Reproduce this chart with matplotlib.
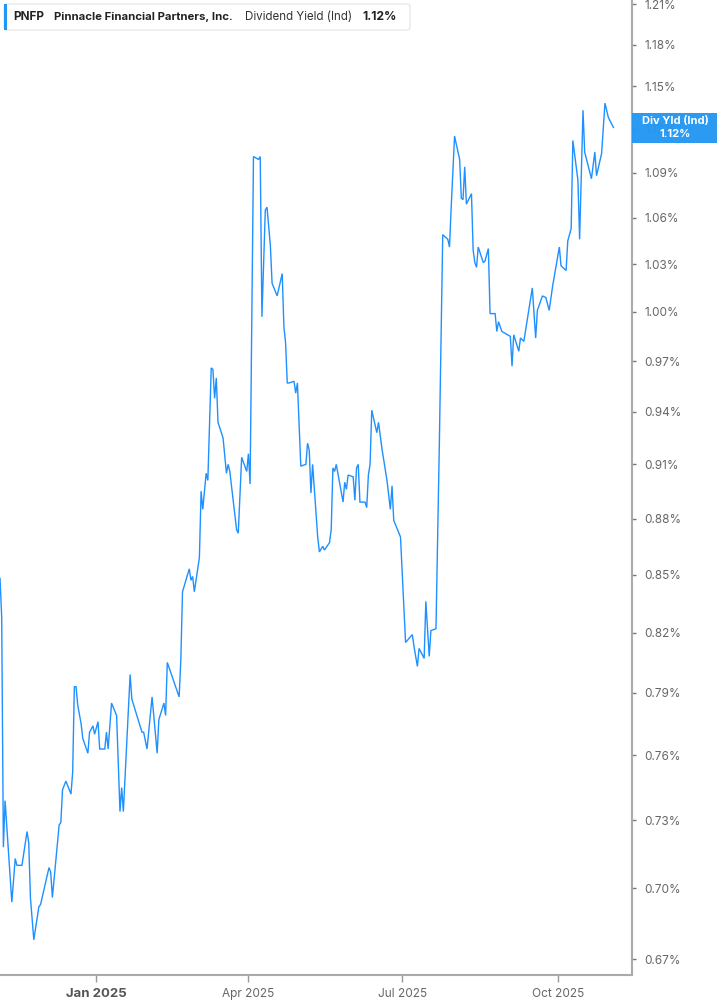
import numpy as np
import pandas as pd
import matplotlib
matplotlib.use("Agg")
import matplotlib.pyplot as plt
import matplotlib.ticker as mticker
from matplotlib.patches import FancyBboxPatch, Rectangle

# dividend yield (%)
dates = [
    "2024-11-05", "2024-11-06", "2024-11-07", "2024-11-08", "2024-11-12", "2024-11-14",
    "2024-11-15", "2024-11-18", "2024-11-21", "2024-11-22", "2024-11-23", "2024-11-25",
    "2024-11-28", "2024-11-29", "2024-12-04", "2024-12-05", "2024-12-06", "2024-12-10",
    "2024-12-11", "2024-12-12", "2024-12-14", "2024-12-17", "2024-12-18", "2024-12-19",
    "2024-12-20", "2024-12-21", "2024-12-23", "2024-12-24", "2024-12-27", "2024-12-28",
    "2024-12-30", "2024-12-31", "2025-01-02", "2025-01-03", "2025-01-06", "2025-01-07",
    "2025-01-08", "2025-01-10", "2025-01-13", "2025-01-15", "2025-01-16", "2025-01-17",
    "2025-01-21", "2025-01-22", "2025-01-25", "2025-01-28", "2025-01-29", "2025-01-31",
    "2025-02-03", "2025-02-06", "2025-02-07", "2025-02-10", "2025-02-11", "2025-02-12",
    "2025-02-19", "2025-02-20", "2025-02-21", "2025-02-25", "2025-02-26", "2025-02-27",
    "2025-02-28", "2025-03-03", "2025-03-04", "2025-03-05", "2025-03-07", "2025-03-08",
    "2025-03-10", "2025-03-11", "2025-03-12", "2025-03-13", "2025-03-14", "2025-03-17",
    "2025-03-19", "2025-03-20", "2025-03-21", "2025-03-25", "2025-03-26", "2025-03-28",
    "2025-03-31", "2025-04-01", "2025-04-02", "2025-04-04", "2025-04-07", "2025-04-08",
    "2025-04-09", "2025-04-11", "2025-04-12", "2025-04-14", "2025-04-15", "2025-04-18",
    "2025-04-21", "2025-04-22", "2025-04-23", "2025-04-24", "2025-04-25", "2025-04-28",
    "2025-04-29", "2025-04-30", "2025-05-02", "2025-05-05", "2025-05-06", "2025-05-07",
    "2025-05-08", "2025-05-09", "2025-05-12", "2025-05-13", "2025-05-15", "2025-05-16",
    "2025-05-19", "2025-05-20", "2025-05-21", "2025-05-22", "2025-05-23", "2025-05-27",
    "2025-05-28", "2025-05-29", "2025-05-30", "2025-06-02", "2025-06-03", "2025-06-04",
    "2025-06-05", "2025-06-06", "2025-06-09", "2025-06-10", "2025-06-11", "2025-06-12",
    "2025-06-13", "2025-06-16", "2025-06-17", "2025-06-19", "2025-06-22", "2025-06-24",
    "2025-06-25", "2025-06-26", "2025-06-30", "2025-07-03", "2025-07-07", "2025-07-08",
    "2025-07-10", "2025-07-11", "2025-07-14", "2025-07-15", "2025-07-17", "2025-07-18",
    "2025-07-21", "2025-07-23", "2025-07-25", "2025-07-28", "2025-07-29", "2025-07-30",
    "2025-08-01", "2025-08-04", "2025-08-05", "2025-08-06", "2025-08-07", "2025-08-08",
    "2025-08-11", "2025-08-12", "2025-08-13", "2025-08-14", "2025-08-15", "2025-08-18",
    "2025-08-19", "2025-08-21", "2025-08-22", "2025-08-25", "2025-08-26", "2025-08-27",
    "2025-08-29", "2025-09-03", "2025-09-04", "2025-09-05", "2025-09-08", "2025-09-09",
    "2025-09-11", "2025-09-16", "2025-09-18", "2025-09-19", "2025-09-22", "2025-09-24",
    "2025-09-26", "2025-09-28", "2025-10-02", "2025-10-03", "2025-10-06", "2025-10-07",
    "2025-10-09", "2025-10-10", "2025-10-13", "2025-10-14", "2025-10-16", "2025-10-17",
    "2025-10-21", "2025-10-23", "2025-10-24", "2025-10-27", "2025-10-29", "2025-10-31",
    "2025-11-03",
]
yield_pct = [
    0.848, 0.828, 0.718, 0.739, 0.694, 0.713,
    0.710, 0.710, 0.725, 0.720, 0.696, 0.678,
    0.692, 0.693, 0.709, 0.707, 0.696, 0.728,
    0.729, 0.744, 0.748, 0.742, 0.752, 0.793,
    0.793, 0.784, 0.775, 0.768, 0.761, 0.771,
    0.774, 0.770, 0.776, 0.763, 0.763, 0.771,
    0.763, 0.785, 0.779, 0.734, 0.745, 0.734,
    0.799, 0.787, 0.779, 0.771, 0.771, 0.763,
    0.788, 0.761, 0.777, 0.785, 0.779, 0.805,
    0.788, 0.806, 0.841, 0.853, 0.847, 0.849,
    0.841, 0.859, 0.895, 0.885, 0.905, 0.901,
    0.966, 0.965, 0.948, 0.960, 0.934, 0.925,
    0.905, 0.910, 0.906, 0.874, 0.872, 0.914,
    0.906, 0.916, 0.899, 1.101, 1.099, 1.101,
    0.997, 1.065, 1.067, 1.042, 1.018, 1.010,
    1.024, 0.991, 0.981, 0.957, 0.957, 0.958,
    0.951, 0.957, 0.909, 0.910, 0.922, 0.918,
    0.894, 0.910, 0.870, 0.862, 0.865, 0.863,
    0.867, 0.874, 0.908, 0.906, 0.910, 0.889,
    0.900, 0.896, 0.904, 0.903, 0.890, 0.908,
    0.910, 0.889, 0.889, 0.886, 0.904, 0.910,
    0.941, 0.928, 0.934, 0.919, 0.901, 0.885,
    0.898, 0.879, 0.870, 0.815, 0.819, 0.813,
    0.803, 0.812, 0.807, 0.836, 0.808, 0.821,
    0.822, 0.922, 1.049, 1.046, 1.041, 1.067,
    1.115, 1.099, 1.073, 1.072, 1.094, 1.069,
    1.076, 1.039, 1.031, 1.028, 1.041, 1.031,
    1.032, 1.040, 0.999, 0.999, 0.988, 0.994,
    0.988, 0.985, 0.967, 0.986, 0.976, 0.984,
    0.982, 1.015, 0.984, 1.001, 1.010, 1.009,
    1.001, 1.016, 1.041, 1.029, 1.026, 1.045,
    1.053, 1.112, 1.085, 1.046, 1.133, 1.104,
    1.086, 1.104, 1.088, 1.103, 1.138, 1.128,
    1.121,
]

y_ticks = [0.67, 0.70, 0.73, 0.76, 0.79, 0.82, 0.85, 0.88, 0.91, 0.94, 0.97,
           1.00, 1.03, 1.06, 1.09, 1.12, 1.15, 1.18, 1.21]
x_ticks = ["2025-01-01", "2025-04-01", "2025-07-01", "2025-10-01"]
x_labels = ["Jan 2025", "Apr 2025", "Jul 2025", "Oct 2025"]

ticker_sym = "PNFP"
company = "Pinnacle Financial Partners, Inc."
metric = "Dividend Yield (Ind)"
last_val = "1.12%"

LINE = "#1e90ff"
BADGE = "#2196f3"
W, H = 717, 1005

plt.rcParams["font.family"] = ["Inter", "DejaVu Sans"]

fig = plt.figure(figsize=(W / 100, H / 100), dpi=100)
ax = fig.add_axes([0, 30 / H, 632 / W, 975 / H])

x = pd.to_datetime(dates)
ax.plot(x, yield_pct, color=LINE, lw=1.0, solid_joinstyle="miter")

ax.set_yscale("log")
ax.set_ylim(0.6634, 1.213)
ax.set_xlim(pd.Timestamp("2024-11-05"), pd.Timestamp("2025-11-14"))

ax.yaxis.tick_right()
ax.yaxis.set_major_locator(mticker.FixedLocator(y_ticks))
ax.yaxis.set_minor_locator(mticker.NullLocator())
ax.yaxis.set_major_formatter(mticker.FuncFormatter(lambda v, _: f"{v:.2f}%"))
ax.tick_params(axis="y", which="major", direction="out", length=3, width=1,
               color="#777777", labelcolor="#666666", labelsize=8.5, pad=6)

ax.set_xticks(pd.to_datetime(x_ticks))
ax.set_xticklabels(x_labels)
ax.tick_params(axis="x", direction="out", length=5, width=1, color="#999999",
               labelcolor="#666666", labelsize=8.5, pad=4)
for lbl in ax.get_xticklabels():
    if lbl.get_text().startswith("Jan"):
        lbl.set_fontweight("bold")
        lbl.set_fontsize(9.5)
        lbl.set_color("#555555")

for side in ["top", "left"]:
    ax.spines[side].set_visible(False)
for side in ["right", "bottom"]:
    ax.spines[side].set_color("#aaaaaa")
    ax.spines[side].set_linewidth(1.5)

# header box top left
fig.patches.append(FancyBboxPatch((4 / W, 1 - 30 / H), 406 / W, 26 / H,
                                  boxstyle="round,pad=0,rounding_size=0.003",
                                  transform=fig.transFigure, facecolor="white",
                                  edgecolor="#e3e3e3", lw=0.8, zorder=5))
fig.patches.append(Rectangle((4 / W, 1 - 30 / H), 3 / W, 26 / H, transform=fig.transFigure,
                             facecolor=BADGE, edgecolor="none", zorder=6))
ty = 1 - 17 / H
fig.text(13 / W, ty, ticker_sym, fontsize=8.5, fontweight="bold", color="#222222",
         va="center", zorder=7)
fig.text(54 / W, ty, company, fontsize=8.2, fontweight="bold", color="#222222",
         va="center", zorder=7)
fig.text(245 / W, ty, metric, fontsize=8.3, color="#333333", va="center", zorder=7)
fig.text(362 / W, ty, last_val, fontsize=8.7, fontweight="bold", color="#222222",
         va="center", zorder=7)

# last value badge on the right axis
fig.patches.append(Rectangle((632 / W, 1 - 143 / H), 85 / W, 30 / H, transform=fig.transFigure,
                             facecolor=BADGE, edgecolor="none", alpha=0.96, zorder=5))
fig.text(675 / W, 1 - 121 / H, "Div Yld (Ind)", fontsize=8, fontweight="bold",
         color="white", ha="center", va="center", zorder=7)
fig.text(675 / W, 1 - 134 / H, last_val, fontsize=8, fontweight="bold",
         color="white", ha="center", va="center", zorder=7)

fig.savefig("out.png", dpi=100)
